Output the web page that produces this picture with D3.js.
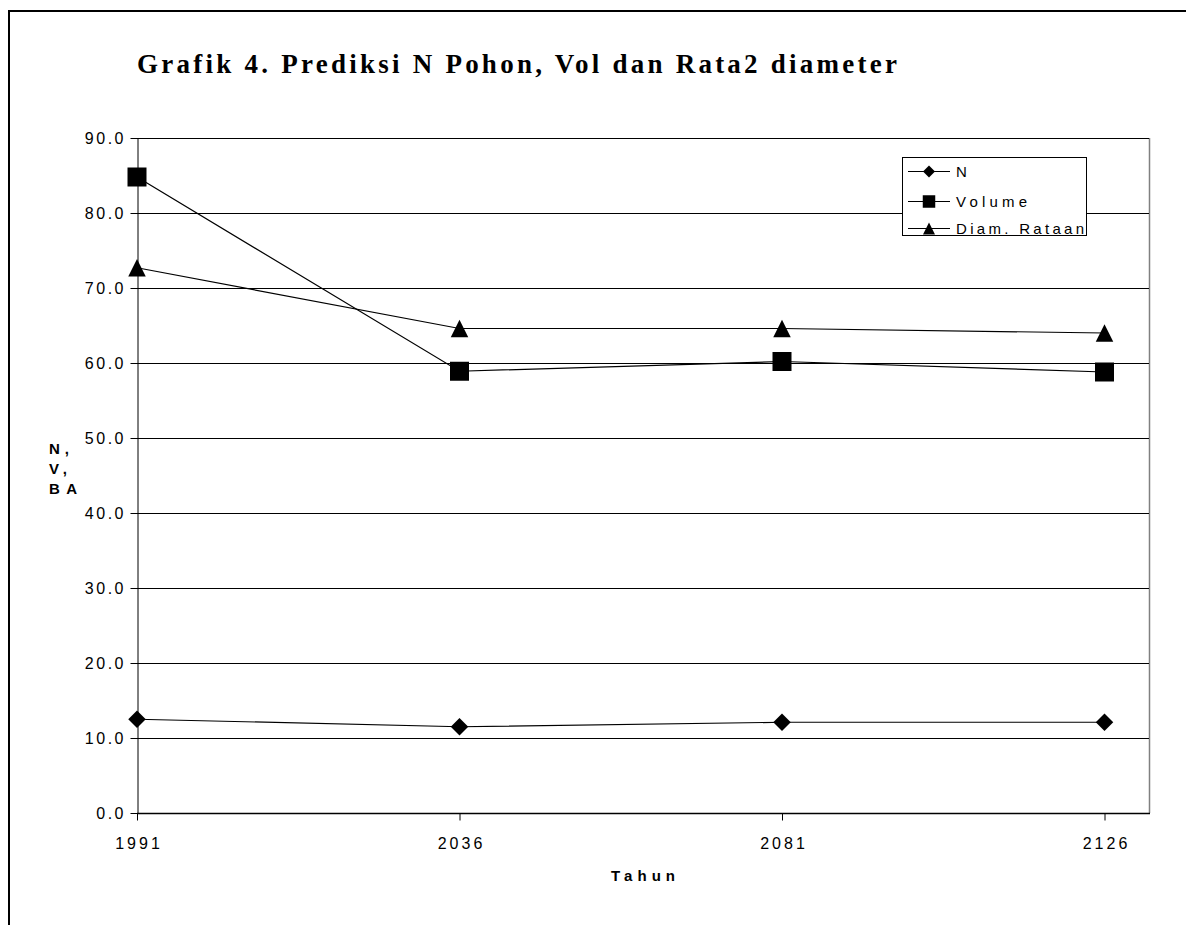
<!DOCTYPE html>
<html>
<head>
<meta charset="utf-8">
<title>Grafik 4</title>
<script src="https://cdn.jsdelivr.net/npm/d3@7/dist/d3.min.js"></script>
<style>
  html, body { margin: 0; padding: 0; background: #fff; }
  svg { display: block; }
</style>
</head>
<body>
<div id="chart"></div>
<script>
// Tahun pengamatan / prediksi
const years = ["1991", "2036", "2081", "2126"];

// Nilai seri
const nValues = [12.5, 11.5, 12.1, 12.1];
const volumeValues = [84.8, 58.9, 60.2, 58.8];
const diameterValues = [72.7, 64.6, 64.6, 64.0];

const seriesNames = ["N", "Volume", "Diam. Rataan"];
const yTicks = [0, 10, 20, 30, 40, 50, 60, 70, 80, 90];

const titleText = "Grafik 4. Prediksi N Pohon, Vol dan Rata2 diameter";
const xTitle = "Tahun";
const yTitleLines = ["N,", "V,", "BA"];

const W = 1186, H = 925;
const plot = { left: 137, top: 138, right: 1149, bottom: 813 };
const sans = "'Liberation Sans', Arial, sans-serif";
const serif = "'Liberation Serif', 'Times New Roman', serif";

const svg = d3.select("#chart").append("svg")
  .attr("width", W).attr("height", H);

// outer frame (runs off the right and bottom edges)
svg.append("rect")
  .attr("x", 9).attr("y", 11)
  .attr("width", W + 20).attr("height", H + 20)
  .attr("fill", "#fff").attr("stroke", "#000").attr("stroke-width", 2);

const x = d3.scalePoint().domain(years).range([plot.left, 1104.5]);
const y = d3.scaleLinear().domain([0, 90]).range([plot.bottom, plot.top]);

// title
svg.append("text")
  .attr("x", 137).attr("y", 73)
  .attr("font-family", serif).attr("font-weight", "bold").attr("font-size", 27)
  .attr("textLength", 760).attr("lengthAdjust", "spacing")
  .text(titleText);

// plot area right border
svg.append("line")
  .attr("x1", plot.right + 0.5).attr("x2", plot.right + 0.5)
  .attr("y1", plot.top).attr("y2", plot.bottom)
  .attr("stroke", "#808080").attr("stroke-width", 1.5);

// gridlines
svg.append("g").selectAll("line")
  .data(yTicks.filter(d => d > 0))
  .join("line")
  .attr("x1", plot.left).attr("x2", plot.right)
  .attr("y1", d => Math.round(y(d)) + 0.5).attr("y2", d => Math.round(y(d)) + 0.5)
  .attr("stroke", "#000").attr("stroke-width", 1);

// y axis
const yAxis = svg.append("g")
  .attr("transform", `translate(${plot.left + 0.5},0)`)
  .call(d3.axisLeft(y).tickValues(yTicks).tickFormat(d3.format(".1f"))
    .tickSize(7).tickSizeOuter(0).tickPadding(4.5));
yAxis.select(".domain").attr("stroke", "#000");
yAxis.selectAll(".tick line").attr("stroke", "#000");
yAxis.selectAll(".tick text")
  .attr("font-family", sans).attr("font-size", 16)
  .style("letter-spacing", "2.5px").attr("fill", "#000")
  .attr("dy", "0.36em");

// x axis
const xAxis = svg.append("g")
  .attr("transform", `translate(0,${plot.bottom + 0.5})`)
  .call(d3.axisBottom(x).tickSize(7).tickSizeOuter(0));
xAxis.select(".domain").remove();
xAxis.selectAll(".tick line").attr("stroke", "#000");
xAxis.selectAll(".tick text")
  .attr("font-family", sans).attr("font-size", 16)
  .style("letter-spacing", "3px").attr("fill", "#000")
  .attr("dy", null).attr("y", 35).attr("dx", 1.5);
svg.append("line")
  .attr("x1", plot.left).attr("x2", plot.right + 1)
  .attr("y1", plot.bottom + 0.5).attr("y2", plot.bottom + 0.5)
  .attr("stroke", "#000").attr("stroke-width", 1.5);

// axis titles
svg.append("text")
  .attr("x", 643 - 32).attr("y", 881)
  .attr("font-family", sans).attr("font-weight", "bold").attr("font-size", 15)
  .attr("textLength", 64).attr("lengthAdjust", "spacing")
  .text(xTitle);

const yTitleWidths = [20, 18, 28];
svg.append("g").selectAll("text")
  .data(yTitleLines)
  .join("text")
  .attr("x", 49).attr("y", (d, i) => 454 + i * 20)
  .attr("font-family", sans).attr("font-weight", "bold").attr("font-size", 15)
  .attr("textLength", (d, i) => yTitleWidths[i]).attr("lengthAdjust", "spacing")
  .text(d => d);

// marker shapes
function markerPath(kind, s) {
  const p = d3.path();
  if (kind === "diamond") {
    p.moveTo(0, -s / 2); p.lineTo(s / 2, 0); p.lineTo(0, s / 2); p.lineTo(-s / 2, 0);
  } else if (kind === "square") {
    p.rect(-s / 2, -s / 2, s, s);
  } else {
    p.moveTo(0, -s / 2); p.lineTo(s / 2, s / 2); p.lineTo(-s / 2, s / 2);
  }
  p.closePath();
  return p.toString();
}

const series = [
  { name: seriesNames[0], values: nValues, marker: "diamond", size: 17.5, legendSize: 12 },
  { name: seriesNames[1], values: volumeValues, marker: "square", size: 19, legendSize: 12.5 },
  { name: seriesNames[2], values: diameterValues, marker: "triangle", size: 17.5, legendSize: 12 }
];

const line = d3.line()
  .x((d, i) => x(years[i]))
  .y(d => y(d));

const gSeries = svg.append("g");
series.forEach(s => {
  gSeries.append("path")
    .datum(s.values)
    .attr("d", line)
    .attr("fill", "none").attr("stroke", "#000").attr("stroke-width", 1.2);
  gSeries.append("g").selectAll("path")
    .data(s.values)
    .join("path")
    .attr("transform", (d, i) => `translate(${x(years[i])},${y(d)})`)
    .attr("d", markerPath(s.marker, s.size))
    .attr("fill", "#000");
});

// legend
const legend = svg.append("g");
legend.append("rect")
  .attr("x", 902.5).attr("y", 157.5).attr("width", 184).attr("height", 78)
  .attr("fill", "#fff").attr("stroke", "#000").attr("stroke-width", 1);
const legendTextWidths = [null, 71, 128];
const legendRows = [171, 201, 228];
series.forEach((s, i) => {
  const cy = legendRows[i];
  legend.append("line")
    .attr("x1", 908).attr("x2", 950).attr("y1", cy + 0.5).attr("y2", cy + 0.5)
    .attr("stroke", "#000").attr("stroke-width", 1);
  legend.append("path")
    .attr("transform", `translate(929,${cy + 0.5})`)
    .attr("d", markerPath(s.marker, s.legendSize))
    .attr("fill", "#000");
  const t = legend.append("text")
    .attr("x", 956).attr("y", cy + 5.5)
    .attr("font-family", sans).attr("font-size", 15)
    .text(s.name);
  if (legendTextWidths[i]) {
    t.attr("textLength", legendTextWidths[i]).attr("lengthAdjust", "spacing");
  }
});
</script>
</body>
</html>
